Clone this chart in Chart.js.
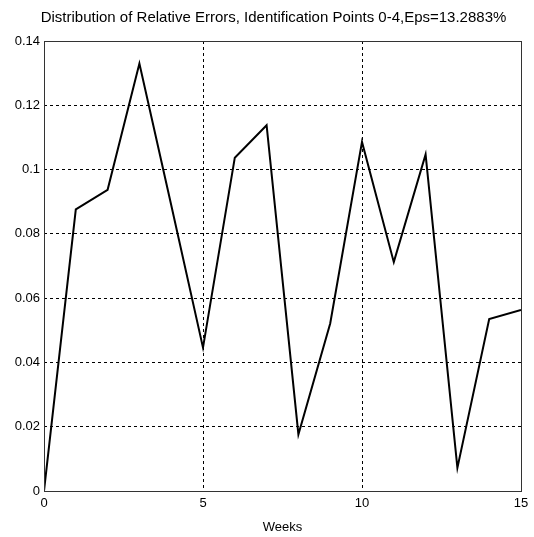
<!DOCTYPE html>
<html>
<head>
<meta charset="utf-8">
<script src="https://cdn.jsdelivr.net/npm/chart.js@4/dist/chart.umd.min.js"></script>
<style>
  html, body { margin: 0; padding: 0; background: #fff; }
  #wrap { width: 534px; height: 537px; }
</style>
</head>
<body>
<div id="wrap"><canvas id="chart"></canvas></div>
<script>
// Relative error per week.
const weeks = [0, 1, 2, 3, 4, 5, 6, 7, 8, 9, 10, 11, 12, 13, 14, 15];
const relErrors = [0, 0.0876, 0.0937, 0.1330, 0.0890, 0.0446, 0.1037, 0.1138, 0.0176, 0.0521,
	0.1086, 0.0712, 0.1047, 0.0072, 0.0535, 0.0563];
const yTickLabels = ['0', '0.02', '0.04', '0.06', '0.08', '0.1', '0.12', '0.14'];
const xTickLabels = ['0', '5', '10', '15'];

const FONT = { family: '"Liberation Sans", Arial, sans-serif', size: 13 };

// Solid frame round the plot area, like MATLAB's axes box.
// Also nudges the title box so it centres where MATLAB put it.
const boxFrame = {
	id: 'boxFrame',
	afterLayout(chart) {
		if (chart.titleBlock) chart.titleBlock.left += 26;
	},
	afterDraw(chart) {
		const { ctx, chartArea: a } = chart;
		ctx.save();
		ctx.strokeStyle = '#333';
		ctx.lineWidth = 1;
		ctx.strokeRect(Math.round(a.left) + 0.5, Math.round(a.top) + 0.5,
			Math.round(a.right - a.left), Math.round(a.bottom - a.top));
		ctx.restore();
	},
};

new Chart(document.getElementById('chart'), {
	type: 'line',
	data: {
		datasets: [{
			data: weeks.map((w, i) => ({ x: w, y: relErrors[i] })),
			borderColor: '#000',
			borderWidth: 2,
			pointRadius: 0,
			tension: 0,
			fill: false,
		}],
	},
	options: {
		responsive: true,
		maintainAspectRatio: false,
		animation: false,
		layout: { padding: { top: 0, right: 13, bottom: 0, left: 0 } },
		plugins: {
			legend: { display: false },
			tooltip: { enabled: false },
			title: {
				display: true,
				text: 'Distribution of Relative Errors, Identification Points 0-4,Eps=13.2883%',
				color: '#000',
				font: { ...FONT, size: 15, weight: 'normal' },
				padding: { top: 9, bottom: 14 },
				align: 'center',
			},
		},
		scales: {
			x: {
				type: 'linear',
				min: 0, max: 15,
				ticks: {
					stepSize: 5, color: '#000', font: FONT, padding: 5, maxRotation: 0,
					callback(v) { return xTickLabels[v / 5]; },
				},
				grid: { color: '#000', lineWidth: 1, drawTicks: false },
				border: { display: false, dash: [3, 3] },
				title: { display: true, text: 'Weeks', color: '#000', font: FONT, padding: { top: 0, bottom: 2 } },
				afterFit(s) { s.height = 46; },
			},
			y: {
				min: 0, max: 0.14,
				ticks: {
					stepSize: 0.02, color: '#000', font: FONT, padding: 4,
					callback(v) { return yTickLabels[Math.round(v / 0.02)]; },
				},
				grid: { color: '#000', lineWidth: 1, drawTicks: false },
				border: { display: false, dash: [3, 3] },
				afterFit(s) { s.width = 44; },
			},
		},
	},
	plugins: [boxFrame],
});
</script>
</body>
</html>
